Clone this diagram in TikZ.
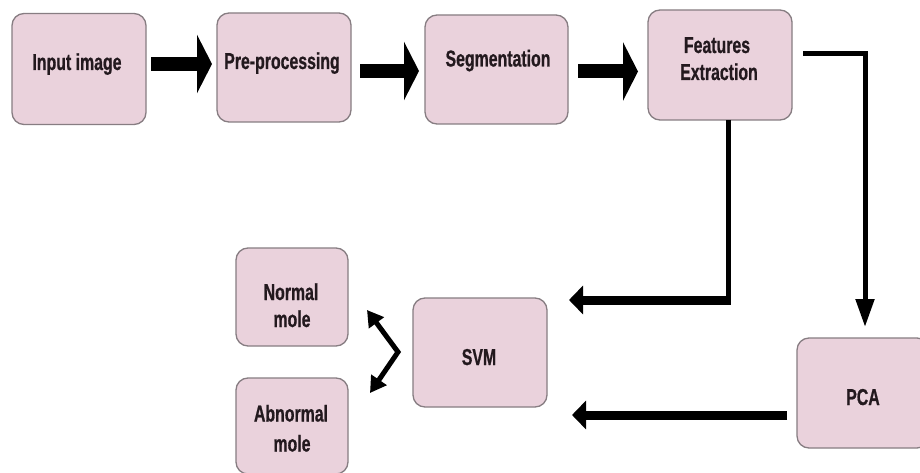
\documentclass[tikz,border=0pt]{standalone}
\usepackage{fontspec}
\newfontfamily\boxfont[FakeStretch=0.69, BoldFeatures={FakeBold=0.7}]{Liberation Sans}
\usetikzlibrary{arrows.meta}
\definecolor{boxfill}{RGB}{234,210,220}
\definecolor{boxline}{RGB}{135,125,130}
\definecolor{txt}{RGB}{35,25,30}
\tikzset{
  procbox/.style={draw=boxline, line width=1.3pt, fill=boxfill, rounded corners=12pt, inner sep=0pt},
  lbl/.style={anchor=base, inner sep=0pt, text=txt, font=\boxfont\bfseries\fontsize{23}{27}\selectfont},
  fatarrow/.style={line width=14pt, -{Triangle[length=15pt,width=58pt]}},
  midarrow/.style={line width=9pt, -{Triangle[length=14pt,width=28pt]}},
  thinline/.style={line width=5pt, line join=miter},
  thinarrow/.style={line width=5pt, line join=miter, -{Triangle[length=28pt,width=18pt]}},
  dblarrow/.style={line width=5pt, line join=miter, {Triangle[length=16pt,width=18pt]}-{Triangle[length=16pt,width=18pt]}}
}
\begin{document}
\begin{tikzpicture}[x=1pt,y=-1pt]
\useasboundingbox (0,0) rectangle (920,473);
\fill[white] (0,0) rectangle (920,473);

\node[procbox, minimum width=134pt, minimum height=111pt] (inp) at (79,69) {};
\node[procbox, minimum width=134pt, minimum height=109pt] (pre) at (284,67.5) {};
\node[procbox, minimum width=143pt, minimum height=109pt] (seg) at (496.5,69.5) {};
\node[procbox, minimum width=144pt, minimum height=110pt] (fe) at (720,65) {};
\node[procbox, minimum width=134pt, minimum height=109pt] (svm) at (480,352.5) {};
\node[procbox, minimum width=112pt, minimum height=98pt] (nor) at (292,297) {};
\node[procbox, minimum width=112pt, minimum height=96pt] (abn) at (292,426) {};
\node[procbox, minimum width=132pt, minimum height=110pt] (pca) at (863,393) {};

\node[lbl] (inpt) at (77,70) {Input image};
\node[lbl] (pret) at (282,69) {Pre-processing};
\node[lbl] (segt) at (498,66.5) {Segmentation};
\node[lbl] (fet1) at (717,53) {Features};
\node[lbl] (fet2) at (719,80) {Extraction};
\node[lbl] (svmt) at (479,365) {SVM};
\node[lbl] (pcat) at (863,405) {PCA};
\node[lbl] (nort1) at (291,300) {Normal};
\node[lbl] (nort2) at (292,327) {mole};
\node[lbl] (abnt1) at (291,421.5) {Abnormal};
\node[lbl] (abnt2) at (292,451.5) {mole};

% top arrows
\coordinate (a1s) at (151,64);
\coordinate (a1e) at (212,64);
\draw[fatarrow] (a1s) -- (a1e);
\coordinate (a2s) at (360,71);
\coordinate (a2e) at (419,71);
\draw[fatarrow] (a2s) -- (a2e);
\coordinate (a3s) at (578,71.5);
\coordinate (a3e) at (638,71.5);
\draw[fatarrow] (a3s) -- (a3e);

% FE -> PCA
\coordinate (fer) at (803,54);
\coordinate (fec) at (865,54);
\coordinate (pcatop) at (865,327);
\draw[thinarrow] (fer) -- (fec) -- (pcatop);

% FE -> SVM
\coordinate (feb) at (728,120);
\coordinate (corner) at (728,300);
\coordinate (svmtip) at (569,300);
\draw[thinline] (feb) -- ([yshift=-4.5pt]corner);
\draw[midarrow] ([xshift=2.5pt]corner) -- (svmtip);

% PCA -> SVM
\coordinate (pcal) at (787,415);
\coordinate (svmb) at (572,415);
\draw[midarrow] (pcal) -- (svmb);

% SVM -> Normal / Abnormal
\coordinate (tn) at (367,310);
\coordinate (vx) at (398,352);
\coordinate (ta) at (370,393);
\draw[dblarrow] (tn) -- (vx) -- (ta);
\end{tikzpicture}
\end{document}
